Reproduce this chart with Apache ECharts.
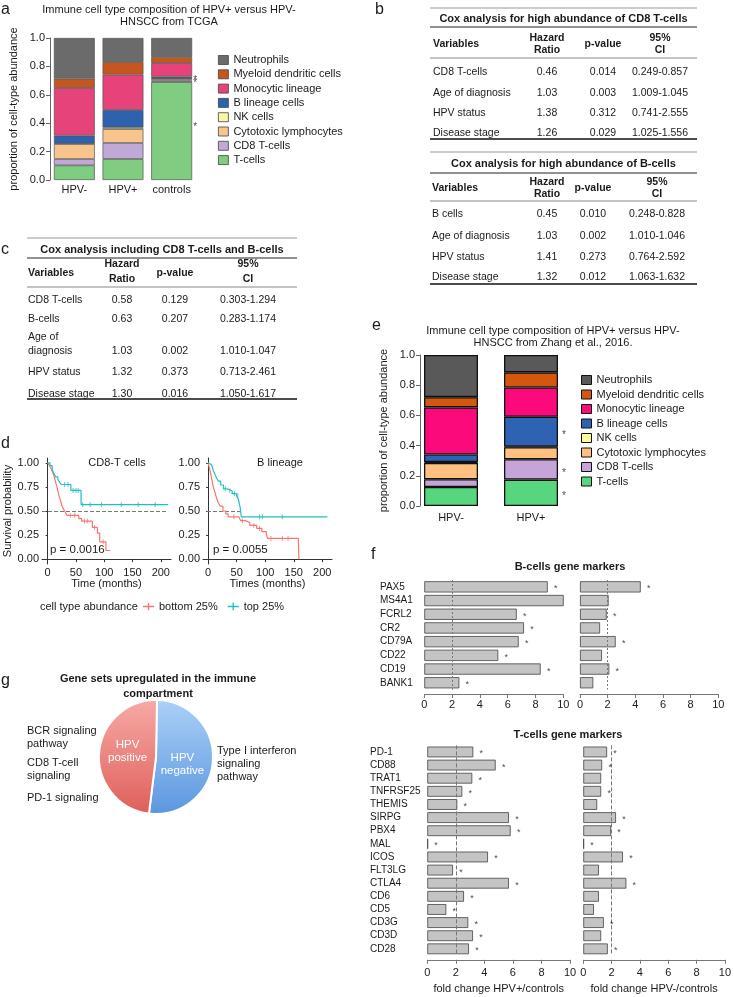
<!DOCTYPE html>
<html><head><meta charset="utf-8">
<script src="https://cdn.jsdelivr.net/npm/echarts@6/dist/echarts.min.js"></script>
<style>html,body{margin:0;padding:0;background:#fff}#c{width:734px;height:997px}</style>
</head><body><div id="c"></div>
<script>
// ---------------- DATA ----------------
const cellTypes = ['T-cells','CD8 T-cells','Cytotoxic lymphocytes','NK cells','B lineage cells','Monocytic lineage','Myeloid dendritic cells','Neutrophils'];
const tcgaGroups = ['HPV-','HPV+','controls'];
const tcgaHPVneg = [0.103,0.045,0.106,0.003,0.055,0.336,0.066,0.286];
const tcgaHPVpos = [0.148,0.113,0.098,0.012,0.122,0.249,0.089,0.169];
const tcgaControls = [0.690,0.010,0.012,0.004,0.012,0.096,0.042,0.134];
const tcgaStars = [['controls',0.394],['controls',0.727],['controls',0.703]];
const zhangGroups = ['HPV-','HPV+'];
const zhangHPVneg = [0.126,0.051,0.108,0.006,0.050,0.312,0.068,0.279];
const zhangHPVpos = [0.175,0.135,0.079,0.005,0.197,0.194,0.100,0.115];
const zhangStars = [['HPV+',0.49],['HPV+',0.24],['HPV+',0.085]];
const propTicks = [0,0.2,0.4,0.6,0.8,1.0];

const coxHeader = ['Variables','Hazard\nRatio','p-value','95%\nCI'];
const coxCD8Title = 'Cox analysis for high abundance of CD8 T-cells';
const coxCD8Rows = [['CD8 T-cells','0.46','0.014','0.249-0.857'],['Age of diagnosis','1.03','0.003','1.009-1.045'],['HPV status','1.38','0.312','0.741-2.555'],['Disease stage','1.26','0.029','1.025-1.556']];
const coxBTitle = 'Cox analysis for high abundance of B-cells';
const coxBRows = [['B cells','0.45','0.010','0.248-0.828'],['Age of diagnosis','1.03','0.002','1.010-1.046'],['HPV status','1.41','0.273','0.764-2.592'],['Disease stage','1.32','0.012','1.063-1.632']];
const coxBothTitle = 'Cox analysis including CD8 T-cells and B-cells';
const coxBothRows = [['CD8 T-cells','0.58','0.129','0.303-1.294'],['B-cells','0.63','0.207','0.283-1.174'],['Age of\ndiagnosis','1.03','0.002','1.010-1.047'],['HPV status','1.32','0.373','0.713-2.461'],['Disease stage','1.30','0.016','1.050-1.617']];

const kmTimeTicks = [0,50,100,150,200];
const kmSurvTicks = [0,0.25,0.5,0.75,1];
const cd8Top = [[0,1],[4,0.97],[8,0.93],[11,0.89],[14,0.855],[18,0.83],[21,0.80],[24,0.775],[41,0.713],[59,0.567],[213,0.567]];
const cd8Bottom = [[0,1],[3,0.97],[6,0.94],[9,0.9],[12,0.85],[14,0.80],[16,0.76],[18,0.71],[20,0.66],[22,0.62],[25,0.56],[28,0.52],[31,0.49],[34,0.455],[55,0.42],[60,0.395],[79,0.33],[88,0.27],[92,0.18],[103,0.09],[111,0.09]];
const cd8TopCensor = [[30,0.775],[36,0.775],[45,0.713],[50,0.713],[54,0.713],[62,0.567],[75,0.567],[95,0.567],[130,0.567],[160,0.567],[190,0.567]];
const cd8BottomCensor = [[40,0.455],[48,0.455],[65,0.395],[70,0.395],[83,0.33],[98,0.18]];
const bTop = [[0,1],[3,0.98],[6,0.96],[9,0.92],[12,0.88],[15,0.84],[18,0.81],[22,0.77],[27,0.73],[33,0.71],[42,0.68],[50,0.655],[53,0.62],[56,0.54],[58,0.44],[209,0.44]];
const bBottom = [[0,1],[2,0.95],[4,0.9],[6,0.84],[8,0.78],[10,0.73],[12,0.69],[15,0.63],[18,0.58],[21,0.55],[26,0.5],[31,0.47],[35,0.44],[54,0.42],[57,0.40],[65,0.38],[73,0.35],[85,0.32],[94,0.285],[102,0.26],[104,0.215],[158,0.215],[159,0]];
const bTopCensor = [[30,0.73],[38,0.71],[46,0.68],[52,0.655],[90,0.44],[95,0.44],[130,0.44]];
const bBottomCensor = [[45,0.44],[60,0.40],[80,0.35],[90,0.32],[110,0.215],[130,0.215],[140,0.215]];

const foldTicks = [0,2,4,6,8,10];
const bGenes = ['PAX5','MS4A1','FCRL2','CR2','CD79A','CD22','CD19','BANK1'];
const bFoldPos = [8.88,10.43,6.65,7.17,6.79,5.32,8.37,2.52];
const bFoldNeg = [4.39,2.07,1.93,1.45,2.58,1.59,2.12,0.96];
const bSigPos = [1,1,1,1,1,1,1,1];
const bSigNeg = [1,0,1,0,1,0,1,0];
const tGenes = ['PD-1','CD88','TRAT1','TNFRSF25','THEMIS','SIRPG','PBX4','MAL','ICOS','FLT3LG','CTLA4','CD6','CD5','CD3G','CD3D','CD28'];
const tFoldPos = [3.22,4.79,3.15,2.45,2.10,5.72,5.84,0.05,4.25,1.80,5.72,2.57,1.33,2.87,3.20,2.92];
const tFoldNeg = [1.68,1.33,1.26,1.26,0.98,2.31,1.96,0.05,2.80,1.10,3.04,1.10,0.75,1.45,1.26,1.73];
const tSigPos = [1,1,1,1,1,1,1,1,1,1,1,1,1,1,1,1];
const tSigNeg = [1,1,0,1,0,1,1,1,1,0,1,0,0,1,0,1];

const pieNames = ['HPV negative','HPV positive'];
const pieShares = [51.7,48.3];
const gLeftTerms = ['BCR signaling\npathway','CD8 T-cell\nsignaling','PD-1 signaling'];
const gRightTerms = ['Type I interferon\nsignaling\npathway'];

// ---------------- STYLE ----------------
const FF = '"Liberation Sans", Arial, Helvetica, sans-serif';
const TXT = '#1a1a1a';
const colA = {'Neutrophils':'#6b6b6b','Myeloid dendritic cells':'#c4561f','Monocytic lineage':'#e5437a','B lineage cells':'#2d62ae','NK cells':'#fbf5a6','Cytotoxic lymphocytes':'#f7c48b','CD8 T-cells':'#c0a9d6','T-cells':'#80cc80'};
const colE = {'Neutrophils':'#595959','Myeloid dendritic cells':'#d4570f','Monocytic lineage':'#fa0a7a','B lineage cells':'#2e62b2','NK cells':'#ffff99','Cytotoxic lymphocytes':'#ffc080','CD8 T-cells':'#c5a5d8','T-cells':'#57d67f'};
const RED = '#F8766D', TEAL = '#1FBFC4';

const G = [];
function txt(x, y, text, o) {
  o = o || {};
  const al = o.align || 'left';
  G.push({type:'text', x:x, y:y, silent:true, z:100, style:{text:text, fill:o.color||TXT, fontSize:o.size||11, fontFamily:FF, fontWeight:o.bold?'bold':'normal', textAlign:al, textVerticalAlign:'middle', align:al, verticalAlign:'middle', lineHeight:o.lh||12}});
}
function rule(x0, x1, y, color, w) {
  G.push({type:'line', silent:true, z:100, shape:{x1:x0, y1:y, x2:x1, y2:y}, style:{stroke:color, lineWidth:w}});
}
function drawTable(t, title, header, rows) {
  t.rules.forEach(r => rule(t.x0, t.x1, r[0], r[1], r[2]));
  txt((t.x0 + t.x1) / 2, t.titleY, title, {bold:true, align:'center', size:11});
  header.forEach((h, i) => {
    const lines = h.split('\n');
    if (i === 0) { txt(t.colX[0], t.varY, h, {bold:true, size:10.5}); return; }
    if (lines.length === 1) txt(t.colX[i], t.varY, h, {bold:true, align:'center', size:10.5});
    else lines.forEach((l, k) => txt(t.colX[i], t.headerY[k], l, {bold:true, align:'center', size:10.5}));
  });
  rows.forEach((row, r) => {
    row.forEach((cell, i) => {
      const lines = cell.split('\n');
      lines.forEach((l, k) => txt(t.colX[i], t.rowY[r] - (lines.length - 1 - k) * 14, l, {size:10.5, align: i === 0 ? 'left' : 'center'}));
    });
  });
}

// panel letters
[['a',1,10],['b',375,10],['c',1,250],['d',1,444],['e',372,326],['f',371,555],['g',1,681]].forEach(p => txt(p[1], p[2], p[0], {size:16}));
// titles
txt(169, 10, 'Immune cell type composition of HPV+ versus HPV-', {align:'center'});
txt(169, 22, 'HNSCC from TCGA', {align:'center'});
txt(553, 331, 'Immune cell type composition of HPV+ versus HPV-', {align:'center'});
txt(553, 343, 'HNSCC from Zhang et al., 2016.', {align:'center'});
txt(117, 463, 'CD8-T cells', {align:'center'});
txt(280, 463, 'B lineage', {align:'center'});
txt(50, 550, 'p = 0.0016', {size:11.5});
txt(213, 550, 'p = 0.0055', {size:11.5});
txt(40, 607, 'cell type abundance');
txt(570, 567, 'B-cells gene markers', {align:'center', bold:true});
txt(568, 735, 'T-cells gene markers', {align:'center', bold:true});
txt(158, 679, 'Gene sets upregulated in the immune', {align:'center', bold:true});
txt(158, 694, 'compartment', {align:'center', bold:true});
// g side texts
const gLeftY = [731, 763, 798];
gLeftTerms.forEach((s, i) => s.split('\n').forEach((l, k) => txt(27, gLeftY[i] + k * 12.5, l)));
gRightTerms[0].split('\n').forEach((l, k) => txt(217, 751 + k * 13, l));

// tables
drawTable({x0:430, x1:697, rules:[[8,'#999',1.2],[27,'#222',1],[58,'#888',1],[139,'#111',1.5]], titleY:19, headerY:[38,50], varY:44, rowY:[72,93,113,133], colX:[433,547,603,660]}, coxCD8Title, coxHeader, coxCD8Rows);
drawTable({x0:430, x1:697, rules:[[152,'#999',1.2],[173,'#222',1],[201,'#888',1],[284,'#111',1.5]], titleY:164, headerY:[182,194], varY:188, rowY:[214,236,257,277], colX:[432,547,593,657]}, coxBTitle, coxHeader, coxBRows);
drawTable({x0:27, x1:297, rules:[[238,'#999',1.2],[258,'#222',1],[287,'#888',1],[399,'#111',1.5]], titleY:250, headerY:[264,279], varY:273, rowY:[300,319,351,372,394], colX:[28,122,175,248]}, coxBothTitle, coxHeader, coxBothRows);

// ---------------- AXES ----------------
const grid = [
  {left:50, top:38, width:146, height:142},
  {left:411, top:355, width:160, height:151},
  {left:42, top:458, width:129, height:106},
  {left:203, top:458, width:129, height:106},
  {left:424.3, top:580, width:139, height:109.6},
  {left:580, top:580, width:138.3, height:109.6},
  {left:427.3, top:745.4, width:142.7, height:210},
  {left:583.3, top:745.4, width:142.7, height:210}
];
function propY(g, offset) {
  return {type:'value', gridIndex:g, min:0, max:1, offset:offset, name:'proportion of cell-type abundance', nameLocation:'middle', nameGap:31,
    nameTextStyle:{fontSize:11, color:TXT, fontFamily:FF},
    axisLine:{show:true, lineStyle:{color:'#666'}}, axisTick:{show:true, length:4, lineStyle:{color:'#666'}, customValues:propTicks},
    axisLabel:{fontSize:11, color:TXT, margin:5, fontFamily:FF, customValues:propTicks, formatter:v => v.toFixed(1)}, splitLine:{show:false}};
}
function catX(g, data, margin) {
  return {type:'category', gridIndex:g, data:data, axisLine:{show:false}, axisTick:{show:false}, axisLabel:{interval:0, hideOverlap:false, fontSize:11, color:TXT, margin:margin, fontFamily:FF}};
}
function kmX(g, min, max, name) {
  return {type:'value', gridIndex:g, min:min, max:max, name:name, nameLocation:'middle', nameGap:13, nameTextStyle:{fontSize:11, color:TXT, fontFamily:FF},
    axisLine:{show:true, lineStyle:{color:'#333'}}, axisTick:{show:true, length:3, lineStyle:{color:'#333'}, customValues:kmTimeTicks},
    axisLabel:{fontSize:11, color:TXT, margin:3, fontFamily:FF, customValues:kmTimeTicks}, splitLine:{show:false}};
}
function kmY(g, named) {
  return {type:'value', gridIndex:g, min:-0.05, max:1.05, name:named ? 'Survival probability' : '', nameLocation:'middle', nameGap:28, nameTextStyle:{fontSize:11, color:TXT, fontFamily:FF},
    axisLine:{show:true, lineStyle:{color:'#333'}}, axisTick:{show:true, length:2, lineStyle:{color:'#333'}, customValues:kmSurvTicks},
    axisLabel:{fontSize:11, color:TXT, margin:3, fontFamily:FF, customValues:kmSurvTicks, formatter:v => v.toFixed(2)}, splitLine:{show:false}};
}
function foldX(g, name, margin) {
  return {type:'value', gridIndex:g, min:0, max:10, offset:4.4, name:name, nameLocation:'middle', nameGap:24, nameTextStyle:{fontSize:11, color:TXT, fontFamily:FF},
    axisLine:{show:true, lineStyle:{color:'#777'}}, axisTick:{show:true, length:4, lineStyle:{color:'#777'}, customValues:foldTicks},
    axisLabel:{fontSize:11, color:TXT, margin:margin, fontFamily:FF, customValues:foldTicks}, splitLine:{show:false}};
}
function geneY(g, genes, showLabels, margin) {
  return {type:'category', gridIndex:g, data:genes, inverse:true, axisLine:{show:false}, axisTick:{show:false},
    axisLabel:{show:showLabels, interval:0, align:'left', margin:margin, fontSize:10, color:TXT, fontFamily:FF}};
}

const xAxis = [catX(0, tcgaGroups, 4.5), catX(1, zhangGroups, 6.5), kmX(2, -10, 218, 'Time (months)'), kmX(3, -9, 217, 'Times (months)'),
  foldX(4, '', 5.5), foldX(5, '', 5.5), foldX(6, 'fold change HPV+/controls', 7.5), foldX(7, 'fold change HPV-/controls', 7.5)];
const yAxis = [propY(0, 0), propY(1, -9), kmY(2, true), kmY(3, false),
  geneY(4, bGenes, true, 44.3), geneY(5, bGenes, false, 0), geneY(6, tGenes, true, 57.3), geneY(7, tGenes, false, 0)];

// ---------------- SERIES ----------------
const series = [];
cellTypes.forEach((ct, i) => {
  series.push({type:'bar', name:ct, stack:'tcga', xAxisIndex:0, yAxisIndex:0, barCategoryGap:'16%',
    data:[tcgaHPVneg[i], tcgaHPVpos[i], tcgaControls[i]], itemStyle:{color:colA[ct], borderColor:'#555', borderWidth:0.7}});
  series.push({type:'bar', name:ct, stack:'zhang', xAxisIndex:1, yAxisIndex:1, barCategoryGap:'32.5%',
    data:[zhangHPVneg[i], zhangHPVpos[i]], itemStyle:{color:colE[ct], borderColor:'#111', borderWidth:1.3}});
});
function starSeries(xi, yi, data, offset, size) {
  return {type:'scatter', xAxisIndex:xi, yAxisIndex:yi, data:data, symbolSize:1, silent:true, z:10,
    itemStyle:{color:'rgba(0,0,0,0)'}, label:{show:true, formatter:'*', position:'inside', offset:offset, fontSize:size||10, color:'#222', fontFamily:FF}};
}
series.push(starSeries(0, 0, tcgaStars, [23.5, 3]));
series.push(starSeries(1, 1, zhangStars, [33, 3]));

// KM curves
function km(name, xi, data, color, ml) {
  const s = {type:'line', name:name, xAxisIndex:xi, yAxisIndex:xi, data:data, step:'end', showSymbol:false, symbol:'none', silent:true,
    lineStyle:{color:color, width:1.2}, itemStyle:{color:color}, z:5};
  if (ml) s.markLine = {silent:true, symbol:'none', label:{show:false}, lineStyle:{type:'dashed', color:'#777', width:1}, data:[ml]};
  return s;
}
function censor(xi, data, color) {
  return {type:'scatter', xAxisIndex:xi, yAxisIndex:xi, data:data, symbol:'rect', symbolSize:[1,5], silent:true, itemStyle:{color:color}, z:6};
}
series.push(km('bottom 25%', 2, cd8Bottom, RED, [{coord:[-10,0.5]},{coord:[213,0.5]}]));
series.push(km('top 25%', 2, cd8Top, TEAL));
series.push(censor(2, cd8BottomCensor, RED));
series.push(censor(2, cd8TopCensor, TEAL));
series.push(km('bottom 25%', 3, bBottom, RED, [{coord:[-2,0.5]},{coord:[57,0.5]}]));
series.push(km('top 25%', 3, bTop, TEAL));
series.push(censor(3, bBottomCensor, RED));
series.push(censor(3, bTopCensor, TEAL));

// fold-change bars
function foldBars(xi, vals, dashType) {
  return {type:'bar', xAxisIndex:xi, yAxisIndex:xi, data:vals, barCategoryGap:'18%', silent:true,
    itemStyle:{color:'#c4c4c4', borderColor:'#444', borderWidth:0.8},
    markLine:{silent:true, symbol:'none', label:{show:false}, lineStyle:{type:dashType, color:'#777', width:1}, data:[{xAxis:2}]}};
}
function foldStars(xi, genes, vals, sig) {
  const d = [];
  genes.forEach((g, i) => { if (sig[i]) d.push([vals[i], g]); });
  return starSeries(xi, xi, d, [8, 2], 9);
}
series.push(foldBars(4, bFoldPos, [2,2]), foldStars(4, bGenes, bFoldPos, bSigPos));
series.push(foldBars(5, bFoldNeg, [2,2]), foldStars(5, bGenes, bFoldNeg, bSigNeg));
series.push(foldBars(6, tFoldPos, 'dashed'), foldStars(6, tGenes, tFoldPos, tSigPos));
series.push(foldBars(7, tFoldNeg, 'dashed'), foldStars(7, tGenes, tFoldNeg, tSigNeg));

// pie
const blueGrad = new echarts.graphic.LinearGradient(0, 0, 0, 1, [{offset:0, color:'#acd0f7'}, {offset:1, color:'#5a96df'}]);
const redGrad = new echarts.graphic.LinearGradient(0, 0, 0, 1, [{offset:0, color:'#f7aaa6'}, {offset:1, color:'#df5f59'}]);
series.push({type:'pie', center:[156,757], radius:57, startAngle:89, clockwise:true, silent:true,
  itemStyle:{borderColor:'#fff', borderWidth:2},
  label:{show:true, position:'inside', formatter:p => p.name.replace(' ', '\n'), color:'#fff', fontSize:11.5, lineHeight:13, fontFamily:FF},
  labelLine:{show:false},
  data:[
    {name:pieNames[0], value:pieShares[0], itemStyle:{color:blueGrad}, label:{offset:[-5,5]}},
    {name:pieNames[1], value:pieShares[1], itemStyle:{color:redGrad}, label:{offset:[3,-3]}}
  ]});

// ---------------- LEGENDS ----------------
const legendOrder = cellTypes.slice().reverse();
const plusIcon = 'path://M0,4.4H10V5.6H0Z M4.4,1.5H5.6V8.5H4.4Z';
const legend = [
  {left:218, top:54, padding:0, orient:'vertical', icon:'rect', itemWidth:10, itemHeight:9, itemGap:2.3, selectedMode:false,
    textStyle:{fontSize:11, color:TXT, fontFamily:FF, lineHeight:12},
    data:legendOrder.map(n => ({name:n, itemStyle:{color:colA[n], borderColor:'#444', borderWidth:0.8}}))},
  {left:581, top:374, padding:0, orient:'vertical', icon:'rect', itemWidth:10, itemHeight:9, itemGap:2.5, selectedMode:false,
    textStyle:{fontSize:11, color:TXT, fontFamily:FF, lineHeight:12},
    data:legendOrder.map(n => ({name:n, itemStyle:{color:colE[n], borderColor:'#111', borderWidth:1}}))},
  {left:143, top:601, padding:0, orient:'horizontal', itemWidth:11, itemHeight:8, itemGap:10, selectedMode:false,
    textStyle:{fontSize:11, color:TXT, fontFamily:FF},
    data:[{name:'bottom 25%', icon:plusIcon, itemStyle:{color:RED}}, {name:'top 25%', icon:plusIcon, itemStyle:{color:TEAL}}]}
];

const chart = echarts.init(document.getElementById('c'));
chart.setOption({
  animation:false,
  backgroundColor:'#fff',
  textStyle:{fontFamily:FF},
  grid:grid, xAxis:xAxis, yAxis:yAxis, series:series, legend:legend,
  graphic:{elements:G}
});
</script></body></html>
